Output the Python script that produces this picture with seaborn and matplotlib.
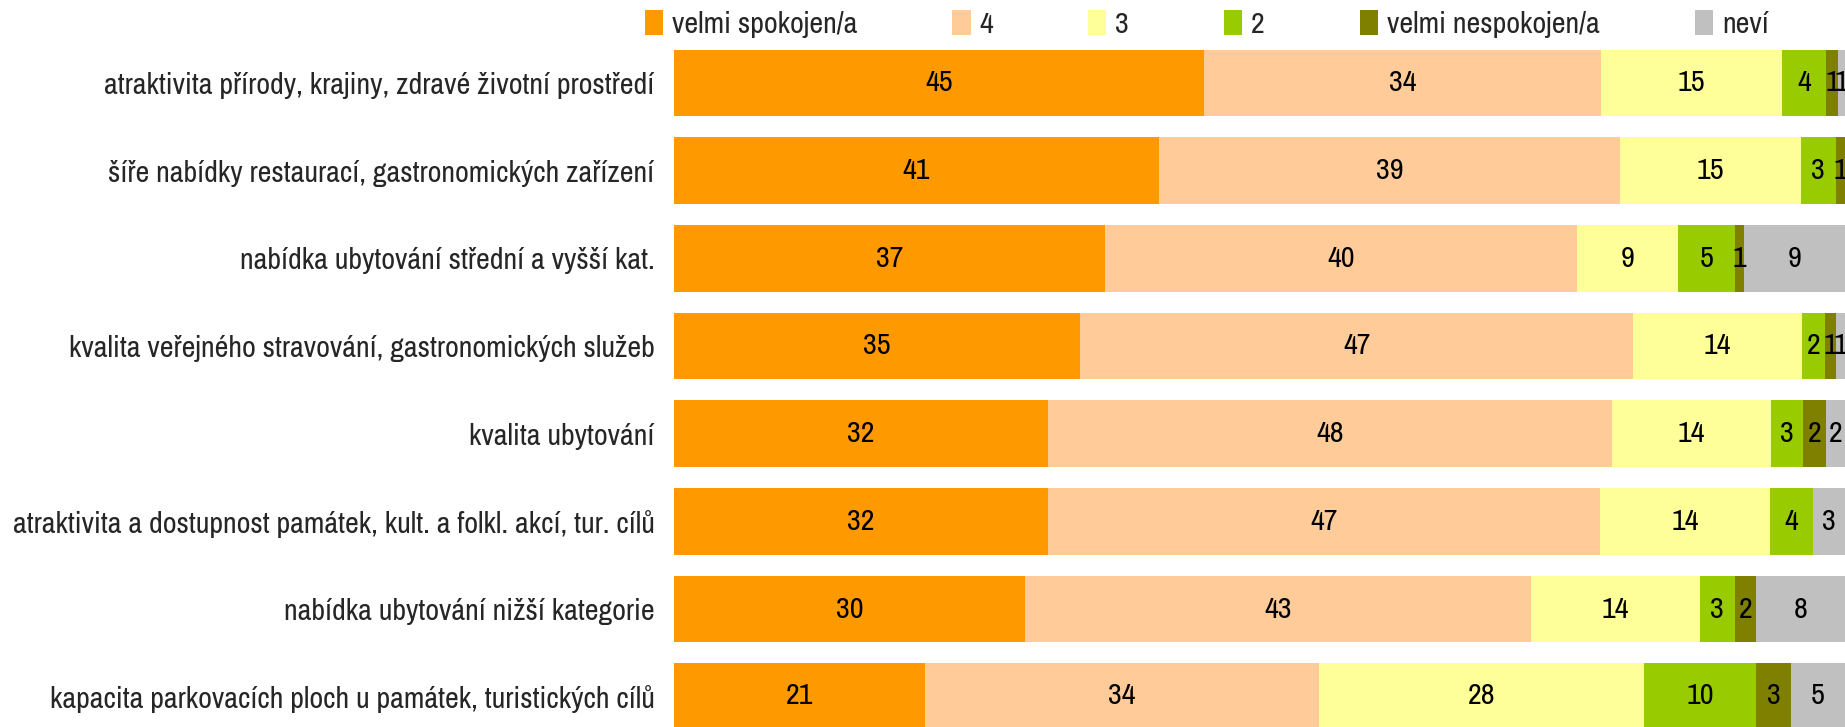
import numpy as np
import pandas as pd
import seaborn as sns
import matplotlib.pyplot as plt
from matplotlib.patches import Patch

# kategorie (shora dolu)
kategorie = [
    "atraktivita přírody, krajiny, zdravé životní prostředí",
    "šíře nabídky restaurací, gastronomických zařízení",
    "nabídka ubytování střední a vyšší kat.",
    "kvalita veřejného stravování, gastronomických služeb",
    "kvalita ubytování",
    "atraktivita a dostupnost památek, kult. a folkl. akcí, tur. cílů",
    "nabídka ubytování nižší kategorie",
    "kapacita parkovacích ploch u památek, turistických cílů",
]

velmi_spokojen = [45.3, 41.4, 36.8, 34.7, 31.9, 31.9, 30.0, 21.4]
ctyri = [33.9, 39.4, 40.3, 47.2, 48.2, 47.2, 43.2, 33.7]
tri = [15.4, 15.4, 8.6, 14.4, 13.6, 14.5, 14.4, 27.7]
dva = [3.8, 3.0, 4.9, 2.0, 2.7, 3.7, 3.0, 9.6]
velmi_nespokojen = [1.0, 0.8, 0.8, 0.9, 2.0, 0.0, 1.8, 3.0]
nevi = [0.6, 0.0, 8.6, 0.8, 1.6, 2.7, 7.6, 4.6]

serie = ["velmi spokojen/a", "4", "3", "2", "velmi nespokojen/a", "neví"]
barvy = ["#FF9900", "#FFCC99", "#FFFF99", "#99CC00", "#808000", "#C0C0C0"]

df = pd.DataFrame({
    "velmi spokojen/a": velmi_spokojen,
    "4": ctyri,
    "3": tri,
    "2": dva,
    "velmi nespokojen/a": velmi_nespokojen,
    "neví": nevi,
}, index=kategorie)

sns.set_theme(style="white")
plt.rcParams['font.family'] = ['Liberation Sans Narrow', 'Arial Narrow', 'Archivo Narrow',
                               'Liberation Sans', 'DejaVu Sans']
fs = 21.7

fig = plt.figure(figsize=(18.45, 7.27), dpi=100)
ax = fig.add_axes([674 / 1845, 0.0, 1 - 674 / 1845, 1 - 39 / 727])

y = np.arange(len(kategorie))
left = np.zeros(len(kategorie))
for s, c in zip(serie, barvy):
    vals = df[s].values
    bars = ax.barh(y, vals, left=left, height=0.76, color=c, edgecolor="none")
    labels = ["%.0f" % v if v > 0 else "" for v in vals]
    ax.bar_label(bars, labels=labels, label_type="center", fontsize=fs, color="black")
    left += vals

ax.set_xlim(0, 100)
ax.set_ylim(7.345, -0.5)
ax.set_yticks(y)
ax.set_yticklabels(kategorie, fontsize=fs)
ax.set_xticks([])
ax.tick_params(axis="y", length=0, pad=14)
for sp in ax.spines.values():
    sp.set_visible(False)

handles = [Patch(facecolor=c, edgecolor="none", label=s) for s, c in zip(serie, barvy)]
fig.legend(handles=handles, loc="center left", bbox_to_anchor=(645 / 1845, 1 - 24 / 727),
           ncol=6, frameon=False, fontsize=fs, handlelength=0.6, handleheight=0.9,
           handletextpad=0.3, columnspacing=3.15, borderaxespad=0, borderpad=0)

fig.savefig("out.png", dpi=100)
